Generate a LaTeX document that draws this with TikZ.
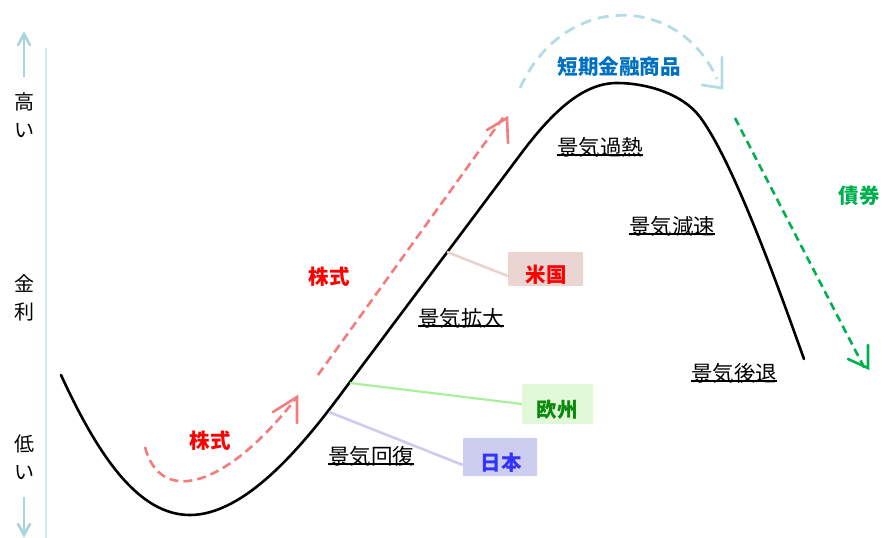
\documentclass[tikz,border=0pt]{standalone}
\usepackage{fontspec}
\newfontfamily\jp{Noto Sans CJK JP}
\usetikzlibrary{arrows.meta}
\definecolor{axisln}{HTML}{CFE9EC}
\definecolor{axisar}{HTML}{A8D6DB}
\definecolor{stockar}{HTML}{F47C7C}
\definecolor{stocktx}{HTML}{FF0000}
\definecolor{mmar}{HTML}{B4DDE3}
\definecolor{mmtx}{HTML}{0070C0}
\definecolor{bondc}{HTML}{00B050}
\definecolor{usfill}{HTML}{EBD5D2}
\definecolor{usline}{HTML}{EAD3CF}
\definecolor{eufill}{HTML}{E1F8D9}
\definecolor{euline}{HTML}{A9F09A}
\definecolor{eutx}{HTML}{0A8A0A}
\definecolor{jpfill}{HTML}{CDCDF0}
\definecolor{jpline}{HTML}{CCCCF0}
\definecolor{jptx}{HTML}{3333FF}
\tikzset{
  phase/.style={font=\jp\fontsize{21.5}{24}\selectfont, inner sep=0pt, text=black},
  boldlbl/.style={font=\jp\bfseries\fontsize{20.5}{24}\selectfont, inner sep=0pt},
  axlbl/.style={font=\jp\fontsize{20}{28.5}\selectfont, inner sep=0pt, align=center},
  cbox/.style={draw=none, rounded corners=1pt, inner sep=0pt},
  dashstock/.style={draw=stockar, line width=2.6pt, dash pattern=on 9pt off 5pt},
  headstock/.style={draw=stockar, line width=2.6pt, line cap=round, line join=miter},
  ulline/.style={line width=1.6pt}
}
\newcommand{\ulfor}[1]{\draw[ulline] ([yshift=2.2pt]#1.south west) -- ([yshift=2.2pt]#1.south east);}
\begin{document}
\begin{tikzpicture}[x=1pt,y=-1pt]
\useasboundingbox (0,0) rectangle (895,538);
% axis
\draw[axisln, line width=2pt] (46,48) -- (46,538);
\draw[axisar, line width=2.6pt] (24,77) -- (24,35);
\draw[axisar, line width=2.6pt, line cap=round] (18,45) -- (24,34) -- (30,45);
\draw[axisar, line width=2.6pt] (24,497) -- (24,534);
\draw[axisar, line width=2.6pt, line cap=round] (18,524) -- (24,535) -- (30,524);
\node[axlbl] (high) at (24,115) {高\\い};
\node[axlbl] (rate) at (24,298) {金\\利};
\node[axlbl] (low) at (24,457) {低\\い};
% business cycle curve
\draw[black, line width=2.6pt, line cap=round]
  (61,375) .. controls (100,460) and (140,515) .. (190,515)
  .. controls (245,515) and (302,446) .. (338,398)
  -- (520,155)
  .. controls (555,108) and (585,83) .. (617,83)
  .. controls (645,83) and (682,93) .. (700,117)
  .. controls (736,165) and (787,312) .. (804,359);
\coordinate (cus) at (447,252);
\coordinate (ceu) at (350,383);
\coordinate (cjp) at (329,412);
% phase labels
\node[phase] (overheat) at (600,147) {景気過熱};
\ulfor{overheat}
\node[phase] (slow) at (672,226) {景気減速};
\ulfor{slow}
\node[phase] (expand) at (461,318) {景気拡大};
\ulfor{expand}
\node[phase] (recess) at (734,373) {景気後退};
\ulfor{recess}
\node[phase] (recover) at (371,456) {景気回復};
\ulfor{recover}
% region boxes
\node[cbox, fill=usfill, minimum width=75pt, minimum height=34pt] (usbox) at (545.5,269) {};
\node[cbox, fill=eufill, minimum width=71pt, minimum height=40pt] (eubox) at (557.5,404) {};
\node[cbox, fill=jpfill, minimum width=74pt, minimum height=38pt] (jpbox) at (500,457) {};
\node[boldlbl, text=stocktx] (ustx) at (546,275) {米国};
\node[boldlbl, text=eutx] (eutxn) at (557,410) {欧州};
\node[boldlbl, text=jptx] (jptxn) at (501,463) {日本};
\draw[usline, line width=2.6pt] (cus) -- ([yshift=-7pt]usbox.west);
\draw[euline, line width=2.2pt] (ceu) -- (eubox.west);
\draw[jpline, line width=2.6pt] (cjp) -- ([yshift=-8pt]jpbox.west);
% stock arrows
\coordinate (s1a) at (145,447);
\coordinate (s1b) at (297,397);
\draw[dashstock] (s1a) .. controls (160,505) and (225,490) .. (s1b);
\draw[headstock] (273,412) -- (s1b) -- (297,423);
\node[boldlbl, text=stocktx] (stock1) at (210,441) {株式};
\coordinate (s2a) at (318,375);
\coordinate (s2b) at (507,118);
\draw[dashstock] (s2a) -- ([xshift=-2pt,yshift=3pt]s2b);
\draw[headstock] (487,130) -- (s2b) -- (508,143);
\node[boldlbl, text=stocktx] (stock2) at (329,277) {株式};
% money market arrow
\coordinate (m1a) at (520,88);
\coordinate (m1b) at (717,79);
\coordinate (m1tip) at (722,88);
\draw[mmar, line width=2.8pt, dash pattern=on 11pt off 7pt] (m1a) .. controls (565,-10) and (680,-5) .. (m1b);
\draw[mmar, line width=2.8pt, line cap=round] (722,57) -- (m1tip) -- (702,85);
\node[boldlbl, text=mmtx] (mm) at (619,67) {短期金融商品};
% bond arrow
\coordinate (b1a) at (735,118);
\coordinate (b1b) at (868,368);
\draw[bondc, line width=2.6pt, dash pattern=on 8pt off 5pt] (b1a) -- ([xshift=-2pt,yshift=-3pt]b1b);
\draw[bondc, line width=2.6pt, line cap=round] (868,345) -- (b1b) -- (848,359);
\node[boldlbl, text=bondc] (bond) at (859,196) {債券};
\end{tikzpicture}
\end{document}
